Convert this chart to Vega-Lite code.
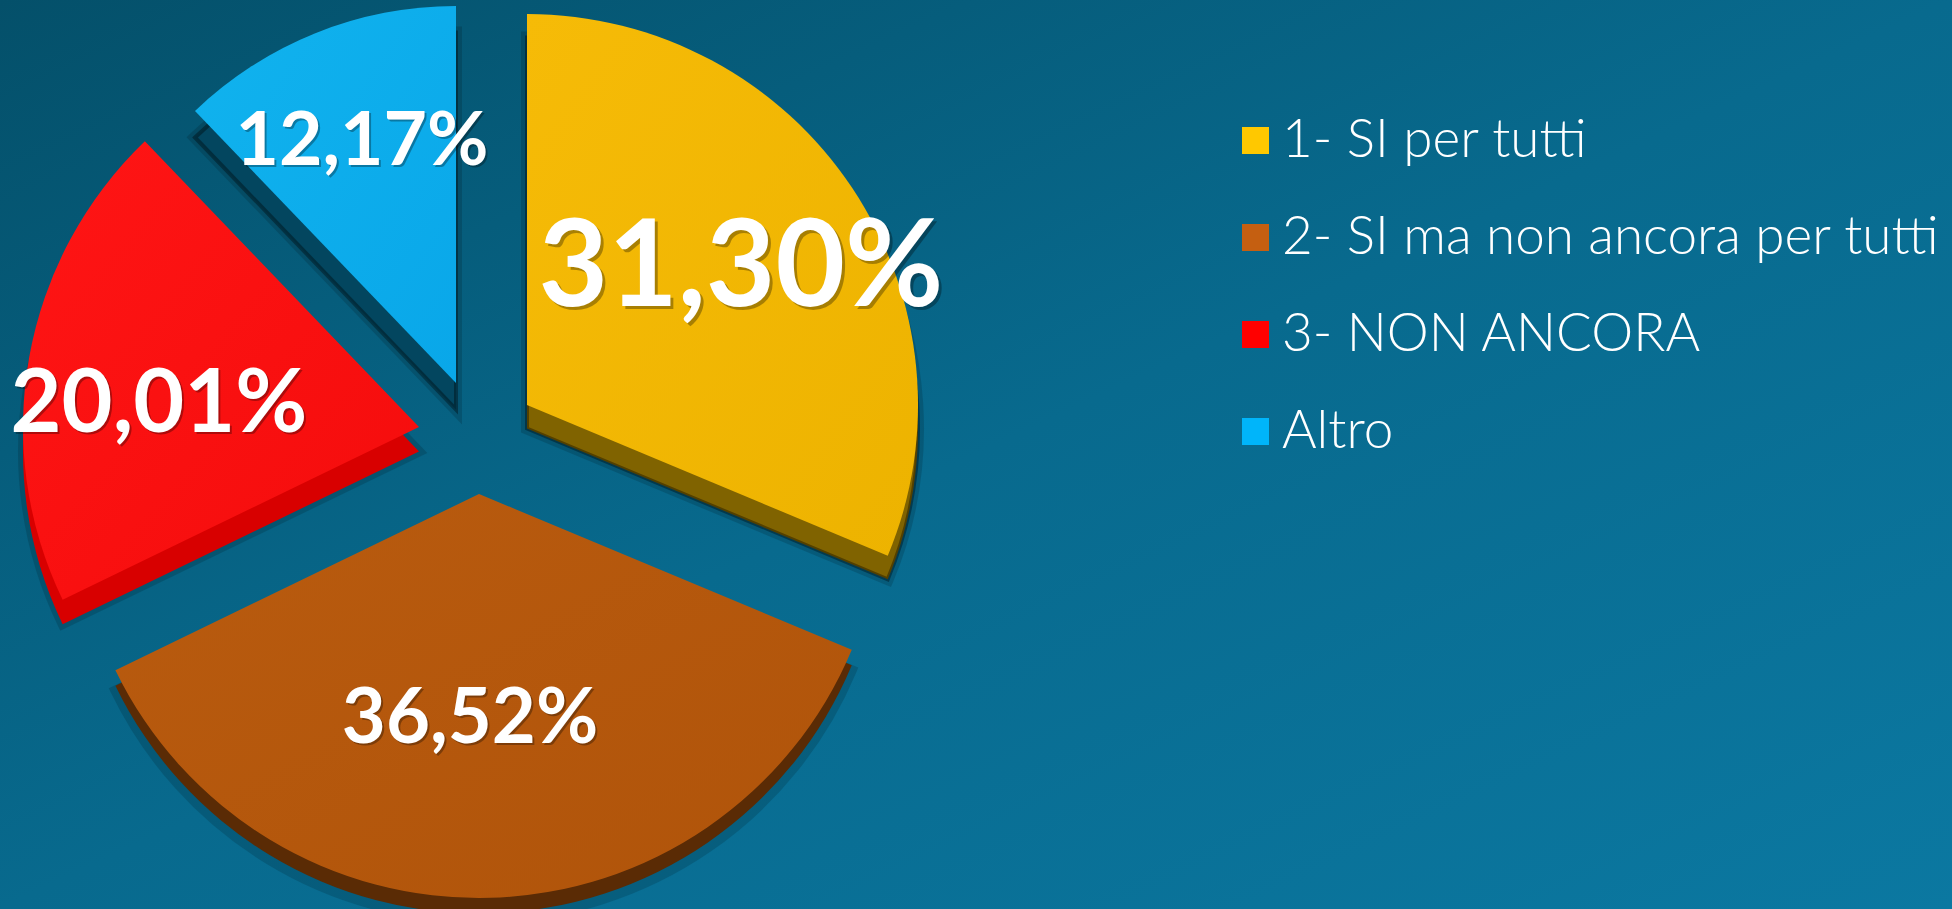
{"$schema":"https://vega.github.io/schema/vega-lite/v6.json","width":1952,"height":909,"padding":0,"autosize":{"type":"none"},"background":"#086a8c","view":{"stroke":null,"fill":{"gradient":"linear","x1":0,"y1":0,"x2":1,"y2":1,"stops":[{"offset":0,"color":"#04506a"},{"offset":0.5,"color":"#086a8e"},{"offset":1,"color":"#0b78a1"}]}},"data":{"values":[{"category":"1- SI per tutti","value":31.30,"label":"31,30%"},{"category":"2- SI ma non ancora per tutti","value":36.52,"label":"36,52%"},{"category":"3- NON ANCORA","value":20.01,"label":"20,01%"},{"category":"Altro","value":12.17,"label":"12,17%"}]},"transform":[{"stack":"value","groupby":[],"sort":[{"field":"category","order":"ascending"}],"as":["v0","v1"]}],"layer":[
{"mark":{"type":"arc","outerRadius":0},"encoding":{"theta":{"field":"v0","type":"quantitative","scale":{"domain":[0,100],"range":[0,6.28319]}},"theta2":{"field":"v1"},"color":{"field":"category","type":"nominal","scale":{"domain":["1- SI per tutti","2- SI ma non ancora per tutti","3- NON ANCORA","Altro"],"range":["#ffc800","#c55f11","#ff0000","#00b5fa"]},"legend":{"title":null,"orient":"none","legendX":1229,"legendY":114,"padding":0,"symbolType":"square","symbolSize":729,"symbolStrokeWidth":0,"symbolOpacity":1,"labelFont":"Lato","labelFontWeight":300,"labelFontSize":53,"labelColor":"#ffffff","labelOffset":0,"rowPadding":43,"labelLimit":800}}}},
{"transform":[{"filter":{"field":"category","equal":"1- SI per tutti"}}],"mark":{"type":"arc","outerRadius":391,"xOffset":-449,"yOffset":-26,"color":"#000000","opacity":0.14,"stroke":"#000000","strokeWidth":12},"encoding":{"theta":{"field":"v0","type":"quantitative"},"theta2":{"field":"v1"}}},
{"transform":[{"filter":{"field":"category","equal":"1- SI per tutti"}}],"mark":{"type":"arc","outerRadius":391,"xOffset":-449,"yOffset":-26,"color":"#806300","stroke":"#000000","strokeOpacity":0.35,"strokeWidth":4},"encoding":{"theta":{"field":"v0","type":"quantitative"},"theta2":{"field":"v1"}}},
{"transform":[{"filter":{"field":"category","equal":"1- SI per tutti"}}],"mark":{"type":"arc","outerRadius":391,"xOffset":-449,"yOffset":-49.5,"color":{"gradient":"linear","x1":0,"y1":0,"x2":1,"y2":1,"stops":[{"offset":0,"color":"#f6bb07"},{"offset":1,"color":"#edb300"}]}},"encoding":{"theta":{"field":"v0","type":"quantitative"},"theta2":{"field":"v1"}}},
{"transform":[{"filter":{"field":"category","equal":"2- SI ma non ancora per tutti"}}],"mark":{"type":"arc","outerRadius":404,"xOffset":-497,"yOffset":60,"color":"#000000","opacity":0.14,"stroke":"#000000","strokeWidth":10},"encoding":{"theta":{"field":"v0","type":"quantitative"},"theta2":{"field":"v1"}}},
{"transform":[{"filter":{"field":"category","equal":"2- SI ma non ancora per tutti"}}],"mark":{"type":"arc","outerRadius":404,"xOffset":-497,"yOffset":55,"color":"#5a2b05"},"encoding":{"theta":{"field":"v0","type":"quantitative"},"theta2":{"field":"v1"}}},
{"transform":[{"filter":{"field":"category","equal":"2- SI ma non ancora per tutti"}}],"mark":{"type":"arc","outerRadius":404,"xOffset":-497,"yOffset":39.5,"color":{"gradient":"linear","x1":0,"y1":0,"x2":1,"y2":1,"stops":[{"offset":0,"color":"#b95b0f"},{"offset":1,"color":"#b0540a"}]}},"encoding":{"theta":{"field":"v0","type":"quantitative"},"theta2":{"field":"v1"}}},
{"transform":[{"filter":{"field":"category","equal":"3- NON ANCORA"}}],"mark":{"type":"arc","outerRadius":396,"xOffset":-557,"yOffset":-3,"color":"#000000","opacity":0.14,"stroke":"#000000","strokeWidth":10},"encoding":{"theta":{"field":"v0","type":"quantitative"},"theta2":{"field":"v1"}}},
{"transform":[{"filter":{"field":"category","equal":"3- NON ANCORA"}}],"mark":{"type":"arc","outerRadius":396,"xOffset":-557,"yOffset":-3,"color":"#d80000"},"encoding":{"theta":{"field":"v0","type":"quantitative"},"theta2":{"field":"v1"}}},
{"transform":[{"filter":{"field":"category","equal":"3- NON ANCORA"}}],"mark":{"type":"arc","outerRadius":396,"xOffset":-557,"yOffset":-27.5,"color":{"gradient":"linear","x1":0,"y1":0,"x2":1,"y2":1,"stops":[{"offset":0,"color":"#ff1515"},{"offset":1,"color":"#f40c0c"}]}},"encoding":{"theta":{"field":"v0","type":"quantitative"},"theta2":{"field":"v1"}}},
{"transform":[{"filter":{"field":"category","equal":"Altro"}}],"mark":{"type":"arc","outerRadius":377,"xOffset":-520,"yOffset":-45,"color":"#000000","opacity":0.14,"stroke":"#000000","strokeWidth":12},"encoding":{"theta":{"field":"v0","type":"quantitative"},"theta2":{"field":"v1"}}},
{"transform":[{"filter":{"field":"category","equal":"Altro"}}],"mark":{"type":"arc","outerRadius":377,"xOffset":-520,"yOffset":-45,"color":"#03465f","stroke":"#000000","strokeOpacity":0.35,"strokeWidth":4},"encoding":{"theta":{"field":"v0","type":"quantitative"},"theta2":{"field":"v1"}}},
{"transform":[{"filter":{"field":"category","equal":"Altro"}}],"mark":{"type":"arc","outerRadius":377,"xOffset":-520,"yOffset":-71.5,"color":{"gradient":"linear","x1":0,"y1":0,"x2":1,"y2":1,"stops":[{"offset":0,"color":"#11b3ee"},{"offset":1,"color":"#09a7e9"}]}},"encoding":{"theta":{"field":"v0","type":"quantitative"},"theta2":{"field":"v1"}}},
{"transform":[{"filter":{"field":"category","equal":"1- SI per tutti"}}],"mark":{"type":"text","font":"Lato","fontWeight":700,"fontSize":120,"align":"center","baseline":"alphabetic","color":"#000000","opacity":0.3,"xOffset":-232,"yOffset":-145.5},"encoding":{"text":{"field":"label"}}},
{"transform":[{"filter":{"field":"category","equal":"1- SI per tutti"}}],"mark":{"type":"text","font":"Lato","fontWeight":700,"fontSize":120,"align":"center","baseline":"alphabetic","color":"#ffffff","xOffset":-235,"yOffset":-148.5},"encoding":{"text":{"field":"label"}}},
{"transform":[{"filter":{"field":"category","equal":"2- SI ma non ancora per tutti"}}],"mark":{"type":"text","font":"Lato","fontWeight":700,"fontSize":76,"align":"center","baseline":"alphabetic","color":"#000000","opacity":0.3,"xOffset":-504,"yOffset":290.5},"encoding":{"text":{"field":"label"}}},
{"transform":[{"filter":{"field":"category","equal":"2- SI ma non ancora per tutti"}}],"mark":{"type":"text","font":"Lato","fontWeight":700,"fontSize":76,"align":"center","baseline":"alphabetic","color":"#ffffff","xOffset":-506,"yOffset":288.5},"encoding":{"text":{"field":"label"}}},
{"transform":[{"filter":{"field":"category","equal":"3- NON ANCORA"}}],"mark":{"type":"text","font":"Lato","fontWeight":700,"fontSize":88,"align":"center","baseline":"alphabetic","color":"#000000","opacity":0.3,"xOffset":-815,"yOffset":-20.5},"encoding":{"text":{"field":"label"}}},
{"transform":[{"filter":{"field":"category","equal":"3- NON ANCORA"}}],"mark":{"type":"text","font":"Lato","fontWeight":700,"fontSize":88,"align":"center","baseline":"alphabetic","color":"#ffffff","xOffset":-817,"yOffset":-22.5},"encoding":{"text":{"field":"label"}}},
{"transform":[{"filter":{"field":"category","equal":"Altro"}}],"mark":{"type":"text","font":"Lato","fontWeight":700,"fontSize":75,"align":"center","baseline":"alphabetic","color":"#000000","opacity":0.3,"xOffset":-612,"yOffset":-287.5},"encoding":{"text":{"field":"label"}}},
{"transform":[{"filter":{"field":"category","equal":"Altro"}}],"mark":{"type":"text","font":"Lato","fontWeight":700,"fontSize":75,"align":"center","baseline":"alphabetic","color":"#ffffff","xOffset":-614,"yOffset":-289.5},"encoding":{"text":{"field":"label"}}}
]}
